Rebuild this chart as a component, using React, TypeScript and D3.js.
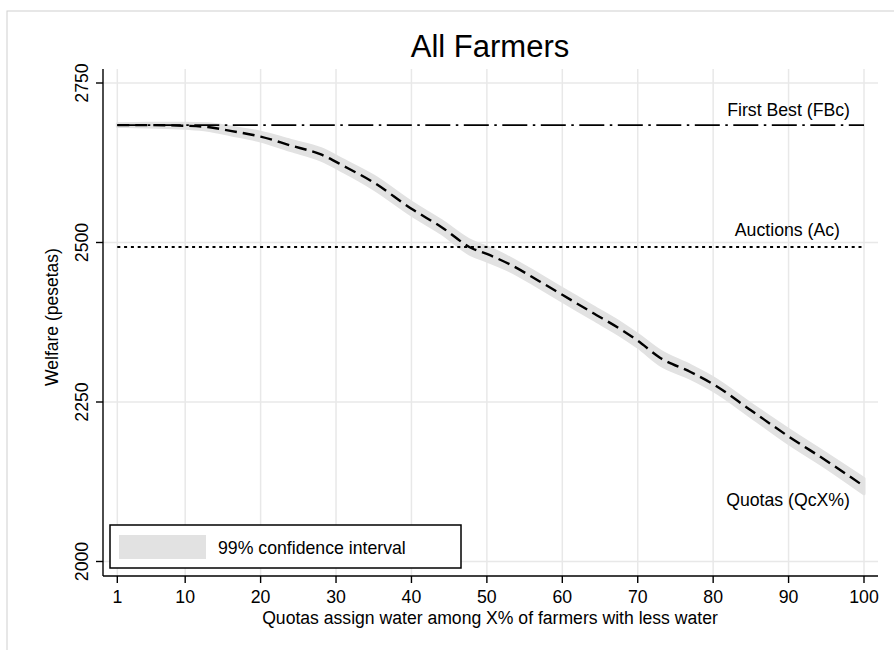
import React from "react";
import * as d3 from "d3";

// share of farmers (X%) that receive quota water
const shares = [1, 5, 10, 13, 16, 20, 24, 28, 31, 35, 40, 44, 48, 50, 53, 57, 60, 64, 68, 70, 73, 77, 80, 85, 90, 95, 100];
// mean welfare under quotas (pesetas)
const quotaWelfare = [2684, 2684, 2683, 2681, 2675, 2666, 2652, 2638, 2620, 2594, 2553, 2524, 2491, 2482, 2466, 2439, 2418, 2390, 2362, 2346, 2319, 2297, 2278, 2237, 2196, 2158, 2118];
// 99% confidence interval bounds
const ciLower = [2682, 2681, 2679, 2676, 2669, 2659, 2644, 2629, 2611, 2584, 2543, 2514, 2480, 2471, 2456, 2429, 2408, 2380, 2352, 2336, 2308, 2287, 2268, 2227, 2185, 2147, 2106];
const ciUpper = [2686, 2687, 2687, 2686, 2681, 2673, 2660, 2647, 2629, 2604, 2563, 2534, 2502, 2493, 2476, 2449, 2428, 2400, 2372, 2356, 2330, 2307, 2288, 2247, 2207, 2169, 2130];

const firstBest = 2684;
const auctions = 2493;

const xTicks = [1, 10, 20, 30, 40, 50, 60, 70, 80, 90, 100];
const yTicks = [2000, 2250, 2500, 2750];

const W = 894;
const H = 650;
const FONT = "'Liberation Sans', Arial, Helvetica, sans-serif";

export default function App() {
  const plotLeft = 103;
  const plotRight = 878;
  const plotTop = 69;
  const plotBottom = 576;

  const x = d3.scaleLinear().domain([1, 100]).range([117.3, 864]);
  const y = d3.scaleLinear().domain([2000, 2750]).range([561.5, 83]);

  const pts = shares.map((s, i) => ({ s, v: quotaWelfare[i], lo: ciLower[i], hi: ciUpper[i] }));

  const line = d3
    .line<any>()
    .x((d) => x(d.s))
    .y((d) => y(d.v))
    .curve(d3.curveMonotoneX);

  const band = d3
    .area<any>()
    .x((d) => x(d.s))
    .y0((d) => y(d.lo))
    .y1((d) => y(d.hi))
    .curve(d3.curveMonotoneX);

  const gridColor = "#e8e8e8";
  const fs = 17.7;

  return (
    <svg
      width={W}
      height={H}
      style={{ position: "absolute", left: 0, top: 0, background: "#fff" }}
      fontFamily={FONT}
    >
      {/* outer frame */}
      <rect x={7} y={11} width={W} height={H} fill="none" stroke="#cfcfcf" strokeWidth={1} />

      <text x={490} y={57} textAnchor="middle" fontSize={31} fill="#000">
        All Farmers
      </text>

      {/* grid */}
      {xTicks.map((t) => (
        <line key={"gx" + t} x1={x(t)} x2={x(t)} y1={plotTop} y2={plotBottom} stroke={gridColor} strokeWidth={1.5} />
      ))}
      {yTicks.map((t) => (
        <line key={"gy" + t} x1={plotLeft} x2={plotRight} y1={y(t)} y2={y(t)} stroke={gridColor} strokeWidth={1.5} />
      ))}

      {/* confidence band */}
      <path d={band(pts) || ""} fill="#e2e2e2" stroke="#e2e2e2" strokeWidth={3} strokeLinejoin="round" />

      {/* reference lines */}
      <line
        x1={x(1)}
        x2={x(100)}
        y1={y(firstBest)}
        y2={y(firstBest)}
        stroke="#000"
        strokeWidth={1.8}
        strokeDasharray="25,5.5,2.5,5.5"
      />
      <line
        x1={x(1)}
        x2={x(100)}
        y1={y(auctions)}
        y2={y(auctions)}
        stroke="#000"
        strokeWidth={2}
        strokeDasharray="3,3.8"
      />

      {/* quotas curve */}
      <path d={line(pts) || ""} fill="none" stroke="#000" strokeWidth={2.4} strokeDasharray="12,6" />

      {/* series labels */}
      <text x={850} y={116} textAnchor="end" fontSize={fs}>First Best (FBc)</text>
      <text x={840} y={236} textAnchor="end" fontSize={fs}>Auctions (Ac)</text>
      <text x={850} y={506} textAnchor="end" fontSize={fs}>Quotas (QcX%)</text>

      {/* axes */}
      <line x1={plotLeft} x2={plotLeft} y1={plotTop} y2={plotBottom} stroke="#000" strokeWidth={1.4} />
      <line x1={plotLeft} x2={plotRight} y1={plotBottom} y2={plotBottom} stroke="#000" strokeWidth={1.4} />

      {xTicks.map((t) => (
        <g key={"tx" + t}>
          <line x1={x(t)} x2={x(t)} y1={plotBottom} y2={plotBottom + 7} stroke="#000" strokeWidth={1.4} />
          <text x={x(t)} y={603} textAnchor="middle" fontSize={fs}>
            {t}
          </text>
        </g>
      ))}
      {yTicks.map((t) => (
        <g key={"ty" + t}>
          <line x1={plotLeft - 7} x2={plotLeft} y1={y(t)} y2={y(t)} stroke="#000" strokeWidth={1.4} />
          <text
            transform={`translate(88,${y(t)}) rotate(-90)`}
            textAnchor="middle"
            fontSize={fs}
          >
            {t}
          </text>
        </g>
      ))}

      <text x={490} y={624} textAnchor="middle" fontSize={17.6}>
        Quotas assign water among X% of farmers with less water
      </text>
      <text transform="translate(58,317) rotate(-90)" textAnchor="middle" fontSize={17.5}>
        Welfare (pesetas)
      </text>

      {/* legend */}
      <rect x={110} y={525} width={351} height={43} fill="#fff" stroke="#000" strokeWidth={1.5} />
      <rect x={119} y={535} width={87} height={24} fill="#e2e2e2" />
      <text x={218} y={554} fontSize={fs}>99% confidence interval</text>
    </svg>
  );
}
